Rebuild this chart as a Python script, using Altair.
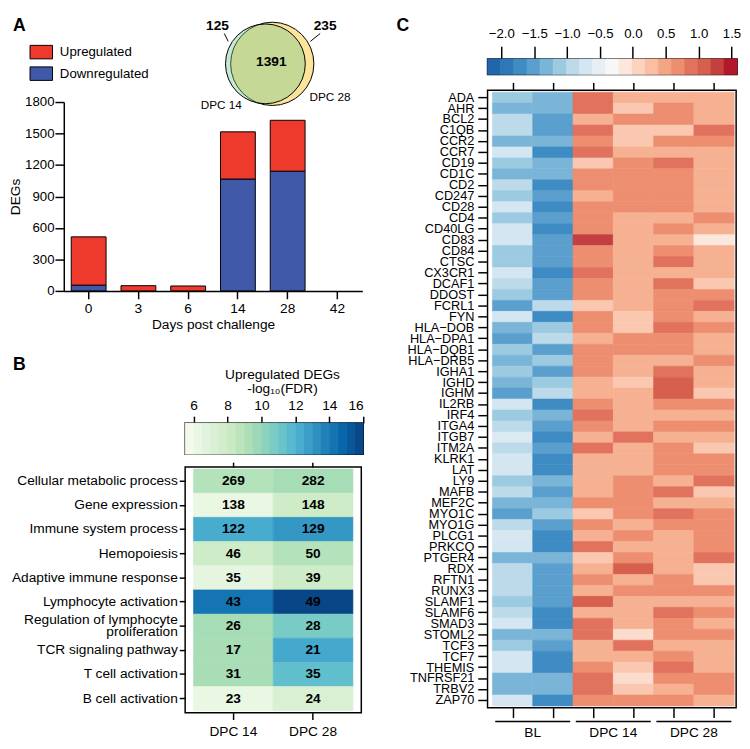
import altair as alt
import math
import pandas as pd

FONT = "Liberation Sans"

# ---------------- Panel A data ----------------
days = ["0", "3", "6", "14", "28", "42"]
upregulated = [460, 50, 47, 450, 485, 0]
downregulated = [55, 0, 0, 1066, 1141, 0]
reg_types = ["Upregulated", "Downregulated"]
reg_colors = ["#ee3a2c", "#3f58a8"]

venn_sets = ["DPC 28", "DPC 14"]          # drawing order
venn_set_colors = ["#fce49b", "#72c58b"]
venn_counts = ["125", "1391", "235"]       # only DPC 14, both, only DPC 28

# ---------------- Panel B data ----------------
go_terms = ["Cellular metabolic process", "Gene expression", "Immune system process",
            "Hemopoiesis", "Adaptive immune response", "Lymphocyte activation",
            "Regulation of lymphocyte|proliferation", "TCR signaling pathway",
            "T cell activation", "B cell activation"]
dpc_groups = ["DPC 14", "DPC 28"]
deg_dpc14 = [269, 138, 122, 46, 35, 43, 26, 17, 31, 23]
deg_dpc28 = [282, 148, 129, 50, 39, 49, 28, 21, 35, 24]
fdr_dpc14 = [9.0, 6.3, 12.3, 8.0, 6.5, 14.2, 9.5, 9.4, 9.4, 6.3]
fdr_dpc28 = [9.5, 8.0, 13.0, 9.0, 8.0, 15.8, 10.8, 12.4, 11.5, 7.3]
fdr_ticks = [6, 8, 10, 12, 14, 16]
fdr_domain = [5.5, 16]
gnbu = ["#f7fcf0", "#e0f3db", "#ccebc5", "#a8ddb5", "#7bccc4", "#4eb3d3", "#2b8cbe", "#0868ac", "#084081"]

# ---------------- Panel C data ----------------
genes = ["ADA", "AHR", "BCL2", "C1QB", "CCR2", "CCR7", "CD19", "CD1C", "CD2", "CD247",
         "CD28", "CD4", "CD40LG", "CD83", "CD84", "CTSC", "CX3CR1", "DCAF1", "DDOST", "FCRL1",
         "FYN", "HLA\u2212DOB", "HLA\u2212DPA1", "HLA\u2212DQB1", "HLA\u2212DRB5", "IGHA1", "IGHD",
         "IGHM", "IL2RB", "IRF4", "ITGA4", "ITGB7", "ITM2A", "KLRK1", "LAT", "LY9", "MAFB",
         "MEF2C", "MYO1C", "MYO1G", "PLCG1", "PRKCQ", "PTGER4", "RDX", "RFTN1", "RUNX3",
         "SLAMF1", "SLAMF6", "SMAD3", "STOML2", "TCF3", "TCF7", "THEMIS", "TNFRSF21", "TRBV2",
         "ZAP70"]
bl_1 = [-1.11, -1.31, -0.91, -0.91, -1.31, -0.71, -1.11, -1.31, -0.91, -1.11,
        -0.71, -1.11, -0.71, -0.71, -1.11, -1.11, -0.71, -0.91, -1.11, -1.51,
        -0.71, -1.31, -1.51, -1.11, -1.31, -1.11, -1.31, -1.51, -0.71, -1.11,
        -0.91, -0.65, -0.91, -0.71, -0.71, -1.11, -0.91, -1.31, -1.51, -0.91,
        -0.68, -0.71, -1.31, -0.91, -0.91, -0.91, -1.11, -0.91, -0.71, -1.31,
        -1.11, -0.71, -0.71, -1.31, -1.31, -0.71]
bl_2 = [-1.31, -1.31, -1.51, -1.51, -1.31, -1.71, -1.31, -1.31, -1.71, -1.51,
        -1.71, -1.51, -1.71, -1.51, -1.51, -1.51, -1.71, -1.51, -1.51, -0.91,
        -1.71, -1.11, -0.91, -1.51, -1.11, -1.51, -1.11, -0.91, -1.71, -1.31,
        -1.51, -1.71, -1.51, -1.71, -1.71, -1.31, -1.51, -1.31, -1.11, -1.51,
        -1.71, -1.71, -1.31, -1.51, -1.51, -1.51, -1.51, -1.71, -1.71, -1.31,
        -1.51, -1.71, -1.71, -1.31, -1.31, -1.71]
dpc14_1 = [0.89, 0.89, 0.39, 0.89, 0.69, 0.89, 0.19, 0.69, 0.69, 0.39,
           0.69, 0.69, 0.69, 1.29, 0.69, 0.69, 0.89, 0.69, 0.69, 0.19,
           0.69, 0.69, 0.39, 0.69, 0.69, 0.69, 0.39, 0.39, 0.69, 0.89,
           0.69, 0.39, 0.89, 0.39, 0.39, 0.39, 0.39, 0.69, 0.19, 0.69,
           0.39, 0.89, 0.19, 0.39, 0.69, 0.39, 1.09, 0.39, 0.89, 0.89,
           0.39, 0.39, 0.69, 0.89, 0.89, 0.69]
dpc14_2 = [0.39, 0.19, 0.69, 0.19, 0.19, 0.39, 0.69, 0.69, 0.69, 0.69,
           0.69, 0.39, 0.39, 0.39, 0.39, 0.39, 0.39, 0.39, 0.39, 0.39,
           0.19, 0.19, 0.69, 0.69, 0.39, 0.39, 0.19, 0.39, 0.39, 0.39,
           0.39, 0.89, 0.39, 0.39, 0.39, 0.69, 0.69, 0.69, 0.69, 0.39,
           0.69, 0.39, 0.69, 1.09, 0.39, 0.69, 0.39, 0.39, 0.39, 0.0,
           0.89, 0.39, 0.19, 0.0, 0.19, 0.69]
dpc28_1 = [0.39, 0.69, 0.69, 0.19, 0.69, 0.39, 0.89, 0.69, 0.69, 0.69,
           0.69, 0.39, 0.69, 0.39, 0.69, 0.89, 0.39, 0.89, 0.69, 0.69,
           0.69, 0.89, 0.69, 0.69, 0.39, 0.89, 1.09, 1.09, 0.69, 0.39,
           0.69, 0.39, 0.69, 0.69, 0.69, 0.39, 0.89, 0.39, 0.89, 0.69,
           0.39, 0.39, 0.39, 0.39, 0.69, 0.69, 0.39, 0.89, 0.69, 0.69,
           0.39, 0.69, 0.89, 0.69, 0.39, 0.69]
dpc28_2 = [0.39, 0.39, 0.39, 0.89, 0.69, 0.39, 0.39, 0.39, 0.39, 0.39,
           0.39, 0.69, 0.39, -0.11, 0.39, 0.39, 0.39, 0.19, 0.69, 0.89,
           0.39, 0.69, 0.39, 0.39, 0.69, 0.39, 0.39, 0.19, 0.69, 0.39,
           0.69, 0.39, 0.19, 0.69, 0.69, 0.89, 0.19, 0.39, 0.69, 0.69,
           0.69, 0.69, 0.89, 0.19, 0.19, 0.69, 0.39, 0.69, 0.39, 0.69,
           0.39, 0.39, 0.39, 0.69, 0.69, 0.39]
sample_columns = [bl_1, bl_2, dpc14_1, dpc14_2, dpc28_1, dpc28_2]
sample_groups = ["BL", "DPC 14", "DPC 28"]
z_ticks = [-2.0, -1.5, -1.0, -0.5, 0.0, 0.5, 1.0, 1.5]
z_domain = [-2.21, 1.585]
z_palette = ["#2166ac", "#2e78b7", "#3f8bc3", "#5a9fcd", "#7ab5d8", "#9ccae1", "#bcdaea",
             "#d4e6f1", "#e6eff5", "#f7f7f7", "#fce7dd", "#fcd3bf", "#f9bea4", "#f4a582",
             "#ec8f6f", "#e1735e", "#d6604d", "#c4403f", "#b2182b"]

# ---------------- shared styles ----------------
frame = alt.ViewBackground(stroke="black", strokeWidth=1.5)


def letter(ch, dx, dy):
    return alt.Chart(pd.DataFrame({"t": [ch]})).mark_text(
        align="left", baseline="top", fontSize=18, fontWeight="bold", color="black"
    ).encode(text="t:N", x=alt.value(dx), y=alt.value(dy))


def spacer(w, h):
    return alt.Chart(pd.DataFrame({"s": [0]})).mark_point(opacity=0, size=1).encode(
        x=alt.value(0), y=alt.value(0)).properties(width=w, height=h)


# ================= Panel A =================
W_A, H_A = 305, 193
bar_rows = []
for d, u, dn in zip(days, upregulated, downregulated):
    bar_rows.append({"day": d, "type": "Downregulated", "n": dn, "o": 0})
    bar_rows.append({"day": d, "type": "Upregulated", "n": u, "o": 1})
bars_df = pd.DataFrame(bar_rows)

bars = alt.Chart(bars_df).transform_filter("datum.n > 0").mark_bar(
    stroke="black", strokeWidth=1
).encode(
    x=alt.X("day:N", sort=days,
            scale=alt.Scale(domain=days, paddingInner=0.3, paddingOuter=0.15),
            axis=alt.Axis(title="Days post challenge", labelAngle=0, labelFontSize=14,
                          titleFontSize=14, tickSize=8, labelPadding=3, titlePadding=2)),
    y=alt.Y("n:Q", stack="zero", scale=alt.Scale(domain=[0, 1800], nice=False),
            axis=alt.Axis(title="DEGs", values=[0, 300, 600, 900, 1200, 1500, 1800],
                          format="d", labelFontSize=13.5, titleFontSize=14, tickSize=9,
                          labelPadding=1, titlePadding=2)),
    color=alt.Color("type:N", scale=alt.Scale(domain=reg_types, range=reg_colors),
                    legend=alt.Legend(title=None, orient="none", legendX=-35, legendY=-63,
                                      symbolType="M-1,-0.6H1V0.6H-1Z", symbolSize=529,
                                      symbolStrokeColor="black", symbolStrokeWidth=1,
                                      symbolOpacity=1, labelFontSize=13.5, labelOffset=7,
                                      rowPadding=1, padding=0)),
    order=alt.Order("o:Q"),
)

# Venn layout, in fractions of panel-A axes
vx = alt.Scale(domain=[0, 1], nice=False, zero=False)
vy = alt.Scale(domain=[0, 1], nice=False, zero=False)
circ_layout = {"cx": [0.6984, 0.6754], "cy": [1.2021, 1.2021], "diam": [96, 92], "fo": [1.0, 0.4]}
circ_df = pd.DataFrame({"set": venn_sets, "fill": venn_set_colors,
                        "cx": circ_layout["cx"], "cy": circ_layout["cy"],
                        "s": [math.pi * (d / 2) ** 2 for d in circ_layout["diam"]],
                        "fo": circ_layout["fo"]})
circles = alt.Chart(circ_df).mark_point(
    shape="circle", filled=True, stroke="black", strokeWidth=1, opacity=1, strokeOpacity=1
).encode(
    x=alt.X("cx:Q", scale=vx, axis=None), y=alt.Y("cy:Q", scale=vy, axis=None),
    size=alt.Size("s:Q", scale=None, legend=None),
    fill=alt.Fill("fill:N", scale=None, legend=None),
    fillOpacity=alt.FillOpacity("fo:Q", scale=None, legend=None),
)
cnt_df = pd.DataFrame({"label": venn_counts, "tx": [0.5148, 0.6951, 0.8754],
                       "ty": [1.4041, 1.2124, 1.4041]})
counts_txt = alt.Chart(cnt_df).mark_text(fontSize=14, fontWeight="bold", color="black").encode(
    x=alt.X("tx:Q", scale=vx, axis=None), y=alt.Y("ty:Q", scale=vy, axis=None), text="label:N")
set_df = pd.DataFrame({"label": venn_sets, "tx": [0.8918, 0.5279], "ty": [1.0259, 0.9845]})
sets_txt = alt.Chart(set_df).mark_text(fontSize=12, color="black").encode(
    x=alt.X("tx:Q", scale=vx, axis=None), y=alt.Y("ty:Q", scale=vy, axis=None), text="label:N")
lead_df = pd.DataFrame({"x1": [0.5377, 0.8590], "x2": [0.5508, 0.8262],
                        "y1": [1.3627, 1.3627], "y2": [1.3212, 1.3212]})
leaders = alt.Chart(lead_df).mark_rule(color="black", strokeWidth=1).encode(
    x=alt.X("x1:Q", scale=vx, axis=None), x2="x2:Q",
    y=alt.Y("y1:Q", scale=vy, axis=None), y2="y2:Q")

panelA = alt.layer(bars, circles, counts_txt, sets_txt, leaders, letter("A", -52, -87)).resolve_scale(
    x="independent", y="independent").properties(width=W_A, height=H_A)

# ================= Panel B =================
fdr_stops = [fdr_domain[0] + (fdr_domain[1] - fdr_domain[0]) * i / 8 for i in range(9)]
fdr_color = alt.Scale(domain=fdr_stops, range=gnbu, interpolate="rgb")
cbB_df = pd.DataFrame({"b0": [fdr_domain[0] + 0.5 * i for i in range(21)]})
cbB_df["b1"] = cbB_df["b0"] + 0.5
cbB_df["bm"] = cbB_df["b0"] + 0.25
cbB = alt.Chart(cbB_df).mark_rect(strokeWidth=0.6).encode(
    x=alt.X("b0:Q", scale=alt.Scale(domain=fdr_domain, nice=False, zero=False),
            axis=alt.Axis(orient="top", values=fdr_ticks, tickSize=7, labelFontSize=14,
                          labelPadding=4, domain=False,
                          title=["Upregulated DEGs", "-log\u2081\u2080(FDR)"], titleFontSize=14,
                          titlePadding=3, titleLineHeight=15, titleX=99)),
    x2="b1:Q",
    color=alt.Color("bm:Q", scale=fdr_color, legend=None),
    stroke=alt.Stroke("bm:Q", scale=fdr_color, legend=None),
)
cbB_layer = alt.layer(cbB, letter("B", -176, -68)).properties(width=182, height=32, view=frame)

hmB_rows = []
for t, n14, n28, f14, f28 in zip(go_terms, deg_dpc14, deg_dpc28, fdr_dpc14, fdr_dpc28):
    hmB_rows.append({"term": t, "grp": "DPC 14", "n": n14, "fdr": f14})
    hmB_rows.append({"term": t, "grp": "DPC 28", "n": n28, "fdr": f28})
hmB_df = pd.DataFrame(hmB_rows)
xB_scale = alt.Scale(domain=dpc_groups, paddingInner=0, paddingOuter=0.105)
yB_scale = alt.Scale(domain=go_terms, paddingInner=0, paddingOuter=0.08)
yB_axis = alt.Axis(title=None, labelExpr="split(datum.label, '|')", labelFontSize=14,
                   tickSize=6, labelPadding=2, domain=False, labelLimit=400, labelLineHeight=12,
                   labelBaseline=alt.condition("indexof(datum.value, '|') >= 0",
                                               alt.value("line-bottom"), alt.value("middle")))
cellsB = alt.Chart(hmB_df).mark_rect(strokeWidth=0.6).encode(
    x=alt.X("grp:N", scale=xB_scale,
            axis=alt.Axis(title=None, orient="bottom", labelAngle=0, labelFontSize=14,
                          tickSize=7, labelPadding=5, domain=False)),
    y=alt.Y("term:N", scale=yB_scale, axis=yB_axis),
    color=alt.Color("fdr:Q", scale=fdr_color, legend=None),
    stroke=alt.Stroke("fdr:Q", scale=fdr_color, legend=None),
)
textB = alt.Chart(hmB_df).mark_text(fontSize=14, fontWeight="bold", color="black").encode(
    x=alt.X("grp:N", scale=xB_scale,
            axis=alt.Axis(title=None, orient="top", labels=False, tickSize=5, domain=False)),
    y=alt.Y("term:N", scale=yB_scale, axis=yB_axis),
    text="n:Q",
)
hmB = alt.layer(cellsB, textB).resolve_axis(x="independent").properties(
    width=180, height=251, view=frame)
panelB = alt.vconcat(cbB_layer, hmB, spacing=13, bounds="flush")

# ================= Panel C =================
n_bins = len(z_palette)
bw = (z_domain[1] - z_domain[0]) / n_bins
z_stops = [z_domain[0] + bw * (i + 0.5) for i in range(n_bins)]
z_color = alt.Scale(domain=z_stops, range=z_palette, interpolate="rgb", clamp=True)
cbC_df = pd.DataFrame({"b0": [z_domain[0] + bw * i for i in range(n_bins)]})
cbC_df["b1"] = cbC_df["b0"] + bw
cbC_df["bm"] = cbC_df["b0"] + bw / 2
cbC = alt.Chart(cbC_df).mark_rect(strokeWidth=0.6).encode(
    x=alt.X("b0:Q", scale=alt.Scale(domain=z_domain, nice=False, zero=False),
            axis=alt.Axis(orient="top", values=z_ticks, format=".1f", tickSize=13,
                          labelFontSize=13.5, labelPadding=6, domain=False, title=None)),
    x2="b1:Q",
    color=alt.Color("bm:Q", scale=z_color, legend=None),
    stroke=alt.Stroke("bm:Q", scale=z_color, legend=None),
)
cbC_layer = alt.layer(cbC, letter("C", -93, -43)).properties(width=255, height=16, view=frame)

hmC_rows = []
for ci, col in enumerate(sample_columns):
    for g, z in zip(genes, col):
        hmC_rows.append({"gene": g, "c0": ci, "z": z})
hmC_df = pd.DataFrame(hmC_rows)
H_C = 631
xC_scale = alt.Scale(domain=[-0.121, 6.049], nice=False, zero=False)
col_centers = [0.5, 1.5, 2.5, 3.5, 4.5, 5.5]
cellsC = alt.Chart(hmC_df).transform_calculate(c1="datum.c0 + 1").mark_rect(strokeWidth=0.6).encode(
    x=alt.X("c0:Q", scale=xC_scale,
            axis=alt.Axis(orient="bottom", values=col_centers, labels=False, tickSize=10,
                          domain=False, title=None, grid=False)),
    x2="c1:Q",
    y=alt.Y("gene:N", sort=genes, scale=alt.Scale(domain=genes, paddingInner=0, paddingOuter=0.17),
            axis=alt.Axis(title=None, labelFontSize=13, tickSize=10, labelPadding=4, domain=False)),
    color=alt.Color("z:Q", scale=z_color, legend=None),
    stroke=alt.Stroke("z:Q", scale=z_color, legend=None),
)
grp_df = pd.DataFrame({"label": sample_groups, "g0": [0, 2, 4], "g1": [2, 4, 6]})
brackets = alt.Chart(grp_df).transform_calculate(
    bs="datum.g0 + 0.07", be="datum.g1 - 0.07").mark_rule(color="black", strokeWidth=1.5).encode(
    x=alt.X("bs:Q", scale=xC_scale,
            axis=alt.Axis(orient="top", values=col_centers, labels=False, tickSize=8,
                          domain=False, title=None, grid=False)),
    x2="be:Q",
    y=alt.value(H_C + 14),
)
bracket_txt = alt.Chart(grp_df).transform_calculate(mid="(datum.g0 + datum.g1) / 2").mark_text(
    fontSize=14, baseline="middle", color="black").encode(
    x=alt.X("mid:Q", scale=xC_scale, axis=None),
    y=alt.value(H_C + 26),
    text="label:N",
)
hmC = alt.layer(cellsC, brackets, bracket_txt).resolve_axis(x="independent").properties(
    width=254, height=H_C, view=frame)
panelC = alt.vconcat(cbC_layer, hmC, spacing=16, bounds="flush")

# ================= Assemble =================
# B sits 124 px to the right of A's plot origin; A's plot starts 44 px below C's colour bar.
panelB_shift = alt.hconcat(spacer(124, 1), panelB, spacing=0, bounds="flush")
left_inner = alt.vconcat(panelA, panelB_shift, spacing=135, bounds="flush").resolve_scale(
    color="independent", stroke="independent")
left = alt.vconcat(spacer(1, 1), left_inner, spacing=43, bounds="flush")
chart = alt.hconcat(left, panelC, spacing=31).resolve_scale(
    color="independent", stroke="independent"
).properties(padding=0).configure(font=FONT).configure_view(stroke=None).configure_axis(
    domainColor="black", tickColor="black", labelColor="black", titleColor="black",
    domainWidth=1.5, tickWidth=1.5, grid=False, titleFontWeight="normal",
    labelFont=FONT, titleFont=FONT
).configure_legend(labelFont=FONT, labelColor="black")

chart.save("out.html", embed_options={"renderer": "svg", "actions": False})
